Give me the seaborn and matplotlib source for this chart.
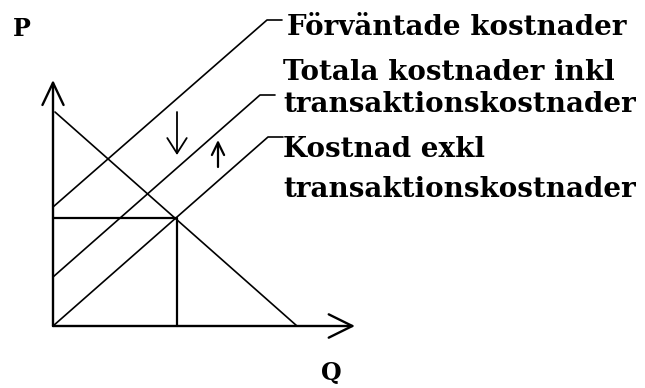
import matplotlib
matplotlib.use("Agg")
import matplotlib.pyplot as plt
import seaborn as sns
import pandas as pd

# --- data (Q, P units; origin at axes corner) ---
q_cost = [0.0, 21.5]          # Kostnad exkl transaktionskostnader
p_cost = [0.0, 18.9]
q_total = [0.0, 20.7]         # Totala kostnader inkl transaktionskostnader
p_total = [4.9, 23.1]
q_expected = [0.0, 21.4]      # Förväntade kostnader
p_expected = [11.9, 30.6]
q_demand = [0.2, 24.4]
p_demand = [21.4, 0.0]
q_eq, p_eq = 12.4, 10.8
q_axis_max, p_axis_max = 30.2, 24.6
down_q, down_p = 12.4, [21.4, 17.1]
up_q, up_p = 16.5, [15.9, 18.6]

label_lines = ["Förväntade kostnader", "Totala kostnader inkl", "transaktionskostnader",
               "Kostnad exkl", "transaktionskostnader"]
label_pos = [(23.4, 29.1), (23.0, 24.6), (23.0, 21.4), (23.0, 16.9), (23.0, 12.9)]
tick_len = 1.5

sns.set_style("white")
plt.rcParams['font.family'] = ['DejaVu Serif']

fig = plt.figure(figsize=(6.45, 3.88), dpi=100)
ax = fig.add_axes([0, 0, 1, 1])
ax.set_xlim(-5.3, 59.2)
ax.set_ylim(-6.2, 32.6)
ax.axis('off')

lines = [(q_cost, p_cost), (q_total, p_total), (q_expected, p_expected)]
for q, p in lines:
    df = pd.DataFrame({'Q': q + [q[-1] + tick_len], 'P': p + [p[-1]]})
    sns.lineplot(data=df, x='Q', y='P', sort=False, estimator=None,
                 color='black', lw=1.2, ax=ax)

sns.lineplot(x=q_demand, y=p_demand, sort=False, estimator=None, color='black', lw=1.2, ax=ax)

# equilibrium guides
sns.lineplot(x=[0, q_eq, q_eq], y=[p_eq, p_eq, 0], sort=False, estimator=None,
             color='black', lw=1.6, ax=ax)

# axes with open arrowheads
ax.annotate('', xy=(0, p_axis_max), xytext=(0, 0),
            arrowprops=dict(arrowstyle='->,head_length=0.8,head_width=0.38', lw=1.7, color='black',
                            shrinkA=0, shrinkB=0, mutation_scale=20))
ax.annotate('', xy=(q_axis_max, 0), xytext=(0, 0),
            arrowprops=dict(arrowstyle='->,head_length=0.85,head_width=0.42', lw=1.7, color='black',
                            shrinkA=0, shrinkB=0, mutation_scale=20))

# shift arrows
ax.annotate('', xy=(down_q, down_p[1]), xytext=(down_q, down_p[0]),
            arrowprops=dict(arrowstyle='->,head_length=0.55,head_width=0.35', lw=1.3, color='black',
                            shrinkA=0, shrinkB=0, mutation_scale=20))
ax.annotate('', xy=(up_q, up_p[1]), xytext=(up_q, up_p[0]),
            arrowprops=dict(arrowstyle='->,head_length=0.45,head_width=0.22', lw=1.6, color='black',
                            shrinkA=0, shrinkB=0, mutation_scale=20))

for txt, (x, y) in zip(label_lines, label_pos):
    ax.text(x, y, txt, fontsize=20, fontweight='bold', va='baseline', ha='left', color='black')

ax.text(-3.1, 29.7, 'P', fontsize=17, fontweight='bold', ha='center', va='center', color='black')
ax.text(27.8, -4.7, 'Q', fontsize=17, fontweight='bold', ha='center', va='center', color='black')

fig.savefig('out.png', dpi=100)
